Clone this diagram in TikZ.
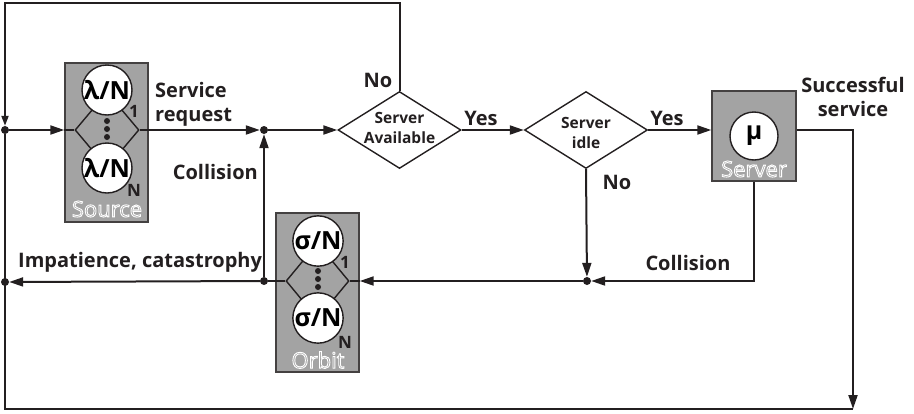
\documentclass[tikz,border=0pt]{standalone}
\usepackage{fontspec}
\setmainfont{Open Sans}
\usetikzlibrary{shapes.geometric,arrows.meta}
\definecolor{ink}{HTML}{231F20}
\definecolor{boxgray}{HTML}{A3A3A3}
\newcommand\hollowtxt[1]{%
 \special{pdf:literal direct q}%
 \textcolor{boxgray}{\special{pdf:literal direct 1 1 1 RG 2 Tr 0.9 w}#1}%
 \special{pdf:literal direct Q}}
\begin{document}
\begin{tikzpicture}[x=1pt,y=-1pt,
  line/.style={draw=ink,line width=2pt},
  arr/.style={line,-{Triangle[length=14pt,width=9pt]}},
  sarr/.style={line,-{Triangle[length=10pt,width=7pt]}},
  dot/.style={circle,fill=ink,inner sep=0pt,minimum size=8pt},
  gbox/.style={draw=ink!85,line width=1.4pt,fill=boxgray,inner sep=0pt},
  rate/.style={circle,draw=ink,line width=1.4pt,fill=white,inner sep=0pt,minimum size=50pt,font=\bfseries\fontsize{25}{25}\selectfont},
  sdiam/.style={diamond,draw=ink,line width=1.4pt,inner sep=0pt,minimum width=64pt,minimum height=76pt},
  dec/.style={diamond,draw=ink,line width=1.4pt,inner sep=0pt,minimum width=123pt,minimum height=77pt},
  lbl/.style={font=\bfseries\fontsize{20}{24}\selectfont,text=ink,inner sep=0pt},
  dlbl/.style={font=\bfseries\fontsize{15.5}{20}\selectfont,text=ink,inner sep=0pt,align=center},
  sub/.style={font=\bfseries\fontsize{17}{17}\selectfont,text=ink,inner sep=0pt},
  blbl/.style={font=\fontsize{22}{22}\selectfont,inner sep=0pt},
  sdot/.style={circle,fill=ink,inner sep=0pt,minimum size=6pt}
]
\useasboundingbox (0,0) rectangle (914,413);

% coordinates
\coordinate (TL) at (5,3);
\coordinate (BL) at (5,409);
\coordinate (BR) at (853,409);
\node[dot] (L1) at (5,130) {};
\node[dot] (L2) at (5,282) {};
\node[dot] (J1) at (264,130) {};
\node[dot] (J2) at (264,281) {};
\node[dot] (J3) at (587,281) {};

% Source
\node[gbox,minimum width=83pt,minimum height=159pt] (src) at (106.5,142.5) {};
\node[sdiam] (sd) at (107,130) {};
\node[rate] (s1) at (107,90) {λ/N};
\node[rate] (sN) at (107,168) {λ/N};
\node[sdot] (sa) at (107,121) {};
\node[sdot] (sb) at (107,129) {};
\node[sdot] (sc) at (107,137) {};
\node[sub] (s1i) at (134,111) {1};
\node[sub] (sNi) at (134,190) {N};
\node[blbl] (srcl) at (107,209) {\hollowtxt{Source}};

% Orbit
\node[gbox,minimum width=83pt,minimum height=159pt] (orb) at (317.5,292.5) {};
\node[sdiam,minimum width=63pt] (od) at (317.5,281) {};
\node[rate] (o1) at (318,241) {σ/N};
\node[rate] (oN) at (318,318) {σ/N};
\node[sdot] (oa) at (318,271) {};
\node[sdot] (ob) at (318,279) {};
\node[sdot] (oc) at (318,287) {};
\node[sub] (o1i) at (345,262) {1};
\node[sub] (oNi) at (345,342) {N};
\node[blbl] (orbl) at (318,360) {\hollowtxt{Orbit}};

% Decisions
\node[dec] (d1) at (399.5,130) {};
\node[dlbl] (d1t) at (399.5,128) {Server\\Available};
\node[dec] (d2) at (586,130) {};
\node[dlbl] (d2t) at (586,133) {Server\\idle};

% Server
\node[gbox,minimum width=84pt,minimum height=90pt] (srv) at (754,136) {};
\node[rate,minimum size=48pt] (mu) at (754,136) {μ};
\node[blbl] (srvl) at (754,169) {\hollowtxt{Server}};

% connectors
\draw[arr] (L1) -- (L1 -| src.west);
\draw[line] (L1 -| src.west) -- (sd.west);
\draw[arr] (sd.east) -- (J1);
\draw[arr] (J1) -- (d1.west);
\draw[arr] (d1.east) -- (d2.west);
\draw[arr] (d2.east) -- (d2.east -| srv.west);
\draw[arr] (d2.east -| srv.east) -| (BR);
\draw[line] (BR) -- (BL) -- (L1);
\draw[sarr] (d1.north) -- (d1.north |- TL) -- (TL) -- (L1);
\draw[arr] (srv.south) |- (J3);
\draw[arr] (d2.south) -- (J3);
\draw[arr] (J3) -- (J3 -| orb.east);
\draw[line] (J3 -| orb.east) -- (od.east);
\draw[line] (od.west) -- (J2);
\draw[arr] (J2) -- (L2);
\draw[arr] (J2) -- (J1);

% labels
\node[lbl,align=left,anchor=west] (sr) at (155,104) {Service\\request};
\node[lbl,anchor=east] (col1) at (258,172) {Collision};
\node[lbl,anchor=west] (imp) at (18,262) {Impatience, catastrophy};
\node[lbl] (no1) at (378,80) {No};
\node[lbl] (yes1) at (481,118) {Yes};
\node[lbl] (yes2) at (667,118) {Yes};
\node[lbl] (no2) at (617,182) {No};
\node[lbl,align=center] (succ) at (853,97) {Successful\\service};
\node[lbl] (col2) at (688,263) {Collision};
\end{tikzpicture}
\end{document}
